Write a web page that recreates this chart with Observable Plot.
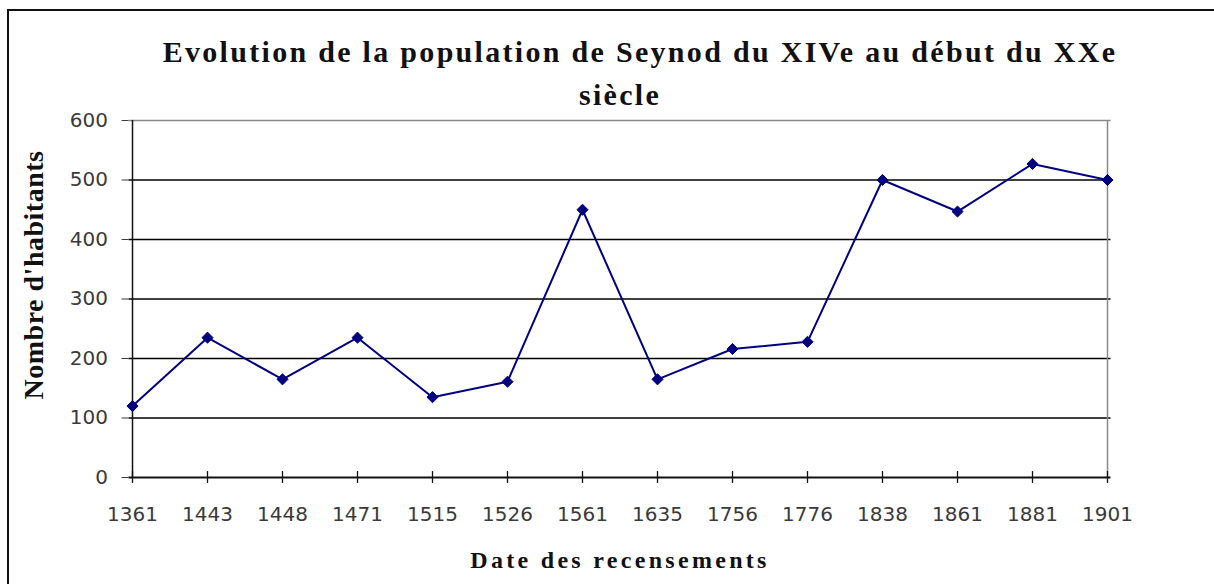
<!DOCTYPE html>
<html>
<head>
<meta charset="utf-8">
<script src="https://cdn.jsdelivr.net/npm/d3@7"></script>
<script src="https://cdn.jsdelivr.net/npm/@observablehq/plot@0.6"></script>
<style>
  html, body { margin: 0; padding: 0; background: #fff; }
  #wrap { position: relative; width: 1214px; height: 584px; overflow: hidden; background: #fff; }
  #border { position: absolute; left: 7px; top: 9px; width: 1300px; height: 700px;
            border-left: 2px solid #111; border-top: 2px solid #111; pointer-events: none; }
  #header { position: relative; height: 110px; font-family: "Liberation Serif", serif;
            font-weight: bold; font-size: 30px; letter-spacing: 2.3px; color: #111; }
  #header .l1 { position: absolute; top: 30px; left: 40px; width: 1200px; text-align: center; line-height: 43px; }
  #header .l2 { position: absolute; top: 73px; left: 20px; width: 1200px; text-align: center; line-height: 43px; }
  svg { display: block; }
</style>
</head>
<body>
<div id="wrap">
  <div id="header"><div class="l1"></div><div class="l2"></div></div>
  <div id="chart"></div>
  <div id="border"></div>
</div>
<script>
const titleLines = ["Evolution de la population de Seynod du XIVe au début du XXe", "siècle"];
const xTitle = "Date des recensements";
const yTitle = "Nombre d'habitants";
const years = ["1361","1443","1448","1471","1515","1526","1561","1635","1756","1776","1838","1861","1881","1901"];
const population = [120, 235, 165, 235, 135, 161, 450, 165, 216, 228, 500, 447, 527, 500];
const yTicks = [0, 100, 200, 300, 400, 500, 600];
const gridValues = [100, 200, 300, 400, 500];

document.querySelector("#header .l1").textContent = titleLines[0];
document.querySelector("#header .l2").textContent = titleLines[1];

const data = years.map((y, i) => ({year: y, value: population[i]}));
const navy = "#000080";

const chart = Plot.plot({
  width: 1214,
  height: 474,
  marginTop: 10,
  marginBottom: 107,
  marginLeft: 128.5,
  marginRight: 103.5,
  style: {background: "#fff", fontFamily: "DejaVu Sans, sans-serif", overflow: "visible"},
  x: {type: "point", domain: years, padding: 0},
  y: {domain: [0, 600]},
  marks: [
    Plot.ruleY(gridValues, {stroke: "#000", strokeWidth: 1.3}),
    Plot.ruleY([yTicks[yTicks.length - 1]], {stroke: "#888", strokeWidth: 1.5}),
    Plot.ruleX([years[years.length - 1]], {y1: 0, y2: 600, stroke: "#888", strokeWidth: 1.5}),
    Plot.axisY({ticks: yTicks, tickSize: 7, tickPadding: 14, fontSize: 20, label: null, color: "#3a3a3a", tickFormat: d => String(d)}),
    Plot.ruleX([years[0]], {y1: 0, y2: 600, stroke: "#111", strokeWidth: 1.5}),
    Plot.ruleY([0], {stroke: "#111", strokeWidth: 2}),
    Plot.ruleX(years, {y1: -10, y2: 10, stroke: "#111", strokeWidth: 1.3}),
    Plot.axisX({tickSize: 0, tickPadding: 29, fontSize: 20, label: null, color: "#3a3a3a"}),
    Plot.line(data, {x: "year", y: "value", stroke: navy, strokeWidth: 2}),
    Plot.dot(data, {x: "year", y: "value", symbol: "diamond2", r: 5, fill: navy, stroke: navy, strokeWidth: 1}),
    Plot.text([yTitle], {frameAnchor: "left", rotate: -90, dx: -94.5, dy: -24, fontSize: 28, fontWeight: "bold",
      fontFamily: "Liberation Serif, serif", fill: "#111", textAnchor: "middle", lineAnchor: "middle"}),
    Plot.text([xTitle], {frameAnchor: "bottom", dy: 83, fontSize: 24, fontWeight: "bold",
      fontFamily: "Liberation Serif, serif", fill: "#111", lineAnchor: "middle", textAnchor: "middle"})
  ]
});
document.getElementById("chart").appendChild(chart);
chart.querySelectorAll("text").forEach(t => {
  if (t.textContent === xTitle) t.setAttribute("letter-spacing", "3.3");
  if (t.textContent === yTitle) t.setAttribute("letter-spacing", "0.5");
});
</script>
</body>
</html>
